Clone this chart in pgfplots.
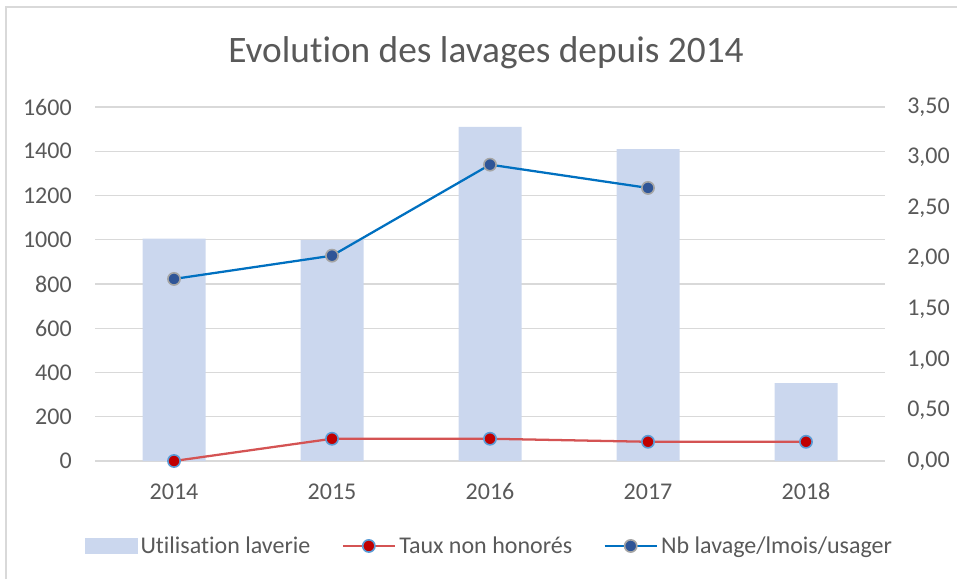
\documentclass[border=0pt]{standalone}
\usepackage{pgfplots}
\pgfplotsset{compat=1.18}
\usepackage{fontspec}
\setmainfont[Ligatures=NoCommon]{Carlito}

\definecolor{textgray}{HTML}{595959}
\definecolor{gridgray}{HTML}{D9D9D9}
\definecolor{barblue}{HTML}{CBD7EE}
\definecolor{redline}{HTML}{D45353}
\definecolor{redmark}{HTML}{C00000}
\definecolor{rededge}{HTML}{5B9BD5}
\definecolor{blueline}{HTML}{0070C0}
\definecolor{bluemark}{HTML}{2F5597}
\definecolor{blueedge}{HTML}{A5A5A5}

\pgfplotsset{
  common/.style={
    at={(71.25pt,88.5pt)}, anchor=south west,
    scale only axis, width=592.5pt, height=265.5pt,
    xmin=0.5, xmax=5.5,
    axis line style={draw=none},
    major tick length=0pt,
    tick label style={font=\fontsize{18}{20}\selectfont, text=textgray, inner sep=0pt},
    /pgf/number format/assume math mode=true,
  },
  linelegend/.style={legend image code/.code={
    \draw[mark repeat=2, mark phase=2] plot coordinates {(0pt,0pt) (19.5pt,0pt) (39pt,0pt)};}},
}

\begin{document}
\begin{tikzpicture}
\useasboundingbox (0,0) rectangle (717.75pt,434.25pt);
\draw[gridgray, line width=1.1pt] (4.5pt,0pt) -- (4.5pt,429pt) -- (717.75pt,429pt);
\node[anchor=base, text=textgray, font=\fontsize{28}{32}\selectfont]
  at (364.5pt,387pt) {Evolution des lavages depuis 2014};

% primary axis: bars
\begin{axis}[common,
  ymin=0, ymax=1600, ytick={0,200,...,1600},
  xtick={1,2,3,4,5}, xticklabels={2014,2015,2016,2017,2018},
  xticklabel style={anchor=base, yshift=-28.5pt},
  yticklabel style={anchor=east, xshift=-17.25pt},
  /pgf/number format/1000 sep={},
  ymajorgrids, grid style={gridgray, line width=1.1pt},
]
\addplot[ybar, bar width=47.25pt, fill=barblue, draw=none]
  coordinates {(1,1005) (2,1000) (3,1510) (4,1410) (5,352)};
\end{axis}

% secondary axis: lines
\begin{axis}[common,
  ymin=0, ymax=3.5, ytick={0,0.5,...,3.5},
  axis y line*=right, xtick=\empty,
  yticklabel style={anchor=west, xshift=16.5pt,
    /pgf/number format/.cd, fixed, fixed zerofill, precision=2, use comma},
  legend columns=3,
  legend style={at={(0.5,-0.240)}, anchor=center, draw=none, fill=none,
    font=\fontsize{18}{20}\selectfont, text=textgray,
    nodes={inner xsep=2.5pt, inner ysep=0pt},
    /tikz/every even column/.append style={column sep=21pt}},
]
\addlegendimage{legend image code/.code={\fill[barblue] (0pt,-5.5pt) rectangle (39pt,5.5pt);}}
\addlegendentry{Utilisation laverie}
\addplot[redline, line width=1.7pt, linelegend,
  mark=*, mark size=4.6pt, mark options={fill=redmark, draw=rededge, line width=1.2pt}]
  coordinates {(1,0) (2,0.22) (3,0.22) (4,0.19) (5,0.19)};
\addlegendentry{Taux non honorés}
\addplot[blueline, line width=1.7pt, linelegend,
  mark=*, mark size=4.6pt, mark options={fill=bluemark, draw=blueedge, line width=1.2pt}]
  coordinates {(1,1.80) (2,2.03) (3,2.93) (4,2.70)};
\addlegendentry{Nb lavage/lmois/usager}
\end{axis}
\end{tikzpicture}
\end{document}
